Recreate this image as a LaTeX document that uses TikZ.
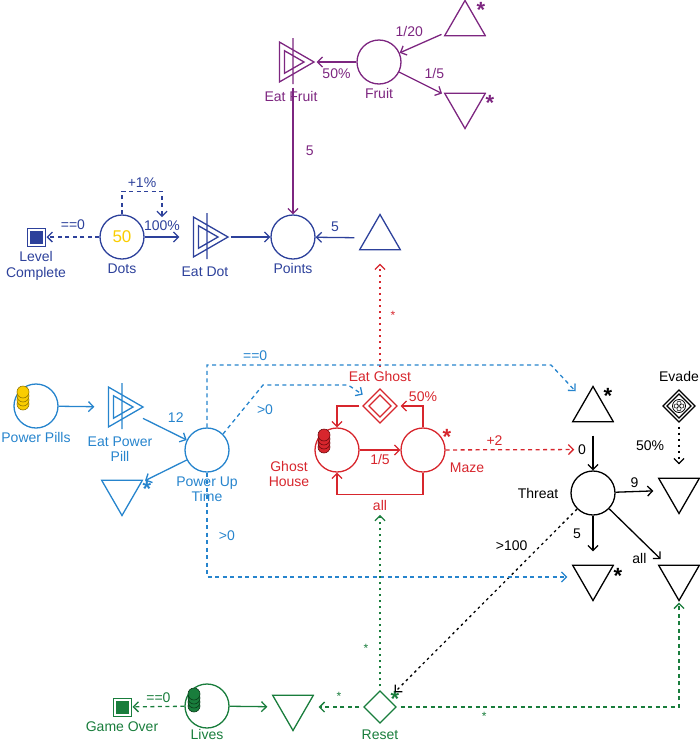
\documentclass[tikz,border=0pt]{standalone}
\usepackage{fontspec}
\setmainfont{Liberation Sans}
\usetikzlibrary{positioning,arrows.meta,calc}

\definecolor{purp}{RGB}{125,38,128}
\definecolor{dotc}{RGB}{45,65,155}
\definecolor{powc}{RGB}{38,132,205}
\definecolor{ghc}{RGB}{215,38,45}
\definecolor{lifc}{RGB}{25,125,60}
\definecolor{yel}{RGB}{250,205,0}
\definecolor{yeld}{RGB}{150,120,0}
\definecolor{ghd}{RGB}{110,10,15}
\definecolor{lifd}{RGB}{10,60,25}

\begin{document}
\begin{tikzpicture}[x=1pt, y=-1pt, line width=1.3pt,
    font=\fontsize{14}{15.5}\selectfont,
    pool/.style={circle, draw, minimum size=44, inner sep=0},
    tri/.style={circle, minimum size=50, inner sep=0,
      path picture={\draw[shift={(path picture bounding box.center)}]
        (#1:23.5) -- (#1+120:23.5) -- (#1+240:23.5) -- cycle;}},
    trup/.style={tri=270},
    trdn/.style={tri=90},
    conv/.style={circle, minimum size=50, inner sep=0,
      path picture={\draw[shift={(path picture bounding box.center)}]
        (0:23) -- (120:23) -- (240:23) -- cycle
        (0:13) -- (120:13) -- (240:13) -- cycle
        (2,-24) -- (2,22);}},
    gate/.style={circle, minimum size=40, inner sep=0,
      path picture={\draw[shift={(path picture bounding box.center)}]
        (0:16) -- (90:16) -- (180:16) -- (270:16) -- cycle;}},
    gatedbl/.style={circle, minimum size=40, inner sep=0,
      path picture={\draw[shift={(path picture bounding box.center)}]
        (0:17) -- (90:17) -- (180:17) -- (270:17) -- cycle
        (0:11) -- (90:11) -- (180:11) -- (270:11) -- cycle;}},
    gaterand/.style={circle, minimum size=40, inner sep=0,
      path picture={\begin{scope}[shift={(path picture bounding box.center)}]
        \draw (0:16) -- (90:16) -- (180:16) -- (270:16) -- cycle
          (0:12) -- (90:12) -- (180:12) -- (270:12) -- cycle;
        \draw[line width=0.8pt] (0,0) circle (6.5);
        \foreach \a in {0,90,180,270} \draw[line width=0.5pt] (\a:2.8) circle (2.1);
        \end{scope}}},
    endsq/.style={rectangle, draw, fill, double=white, double distance=2pt,
                  line width=1pt, minimum size=15, inner sep=0, outer sep=3pt},
    coin/.style={circle, line width=0.6pt, minimum size=12, inner sep=0},
    arr/.style={-{Straight Barb[length=5pt,width=10pt]}},
    dsh/.style={arr, dash pattern=on 4pt off 3.5pt},
    dtt/.style={arr, dash pattern=on 2.5pt off 3.5pt},
    bst/.style={font=\fontsize{22}{22}\bfseries\selectfont, inner sep=0},
    sst/.style={font=\fontsize{12}{12}\selectfont, inner sep=0}
  ]
  \useasboundingbox (0,0) rectangle (700,745);

  % nodes
  \begin{scope}[purp]
    \node[conv, label=below:Eat Fruit] (efr) at (291,62) {};
    \node[pool, label=below:Fruit] (fruit) at (379,62) {};
    \node[trup] (tfa) at (465,24) {};
    \node[trdn] (tfb) at (465,105) {};
    \node[bst] (sfa) at (481,10) {*};
    \node[bst] (sfb) at (490,103) {*};
  \end{scope}

  \begin{scope}[dotc]
    \node[endsq, label={[align=center]below:Level\\Complete}] (levc) at (36,237) {};
    \node[pool, text=yel, font=\fontsize{17}{17}\selectfont,
          label=below:Dots] (dots) at (122,237) {50};
    \node[conv, label=below:Eat Dot] (edot) at (205,237) {};
    \node[pool, label=below:Points] (points) at (293,237) {};
    \node[trup] (tpt) at (380,238) {};
  \end{scope}

  \begin{scope}[powc]
    \node[pool, label=below:Power Pills] (pp) at (36,406) {};
    \foreach \k in {3,...,0}
      \node[coin, fill=yel, draw=yeld] (ppc\k) at ($(pp)+(-13,-14+4*\k)$) {};
    \node[conv, label={[align=center]below:Eat Power\\Pill}] (epp) at (120,407) {};
    \node[pool, label={[align=center]below:Power Up\\Time}] (put) at (207,450) {};
    \node[trdn] (tpu) at (122,492) {};
    \node[bst] (spu) at (147,489) {*};
  \end{scope}

  \begin{scope}[ghc]
    \node[gatedbl, label={[name=egl]above:Eat Ghost}] (eg) at (380,406) {};
    \node[pool] (gh) at (337,450) {};
    \foreach \k in {3,...,0}
      \node[coin, fill=ghc, draw=ghd] (ghc\k) at ($(gh)+(-13,-15+4*\k)$) {};
    \node[align=center] (ghl) at (289,474) {Ghost\\House};
    \node[pool] (maze) at (423,450) {};
    \node (mazel) at (467,468) {Maze};
    \node[bst] (smz) at (447,437) {*};
  \end{scope}

  \node[trup] (tthr) at (593,410) {};
  \node[bst] (sthr) at (608,396) {*};
  \node[pool, label={[label distance=8pt]left:Threat}] (thr) at (593,493) {};
  \node[gaterand, label=above:Evade] (evd) at (679,406) {};
  \node[trdn] (trd) at (679,490) {};
  \node[trdn] (tsd) at (593,577) {};
  \node[bst] (ssd) at (618,576) {*};
  \node[trdn] (tbr) at (679,577) {};

  \begin{scope}[lifc]
    \node[endsq, label=below:Game Over] (gov) at (122,707) {};
    \node[pool, label={[label distance=-3pt]below:Lives}] (lives) at (207,706) {};
    \foreach \k in {3,...,0}
      \node[coin, fill=lifc, draw=lifd] (lvc\k) at ($(lives)+(-13,-12+4*\k)$) {};
    \node[trdn] (tgn) at (293,707) {};
    \node[gate, label={[label distance=-2pt]below:Reset}] (rst) at (380,707) {};
    \node[bst] (srst) at (395,699) {*};
  \end{scope}

  % connectors
  \begin{scope}[purp]
    \draw[arr] (tfa) -- (fruit) node[pos=0.35, above left=0pt] {1/20};
    \draw[arr] (fruit) -- (tfb) node[midway, above right] {1/5};
    \draw[arr] (fruit) -- (efr) node[midway, below=3pt] {50\%};
    \draw[arr] (efr.south -| points) -- (points) node[midway, right=9pt] {5};
  \end{scope}

  \begin{scope}[dotc]
    \draw[dsh] (dots) -- (levc) node[midway, above=3pt] {==0};
    \draw[arr] (dots) -- (edot) node[midway, above=2pt] (l100) {100\%};
    \draw[dsh] (dots.north) -- ++(0,-23) -| (l100.north) node[pos=0.25, above] {+1\%};
    \draw[arr] (edot) -- (points);
    \draw[arr] (tpt) -- (points) node[midway, above=2pt] {5};
  \end{scope}

  \draw[arr] (tthr) -- (thr) node[pos=0.4, left=3pt] (l0) {0};
  \draw[arr] (thr) -- (trd) node[midway, above] {9};
  \draw[arr] (thr) -- (tsd) node[midway, left=8pt] {5};
  \draw[arr] (thr) -- (tbr) node[pos=0.8, below left] {all};
  \draw[dtt] (evd) -- (trd) node[midway, left=11pt] {50\%};
  \draw[dtt] (thr) -- (rst) node[pos=0.25, above left] {>100};

  \begin{scope}[ghc]
    \draw[arr] (gh) -- (maze) node[midway, below] {1/5};
    \draw[arr] (eg) -| (gh);
    \draw[arr] (maze) |- (eg) node[pos=0.5, above] {50\%};
    \draw[arr] (maze.south) -- ++(0,22) -| (gh.south) node[pos=0.25, below=2pt] (lall) {all};
    \draw[dsh] (maze) -- (l0) node[pos=0.38, above] {+2};
    \draw[dtt] (egl) -- (tpt) node[midway, right=10pt, sst] {*};
  \end{scope}

  \begin{scope}[powc]
    \draw[arr] (pp) -- (epp);
    \draw[arr] (epp) -- (put) node[pos=0.75, above=8pt] {12};
    \draw[arr] (put) -- (tpu);
    \draw[dsh] (put.north) |- ($(tthr)+(-42,-45)$) node[pos=0.57, above] {==0} -- (tthr);
    \draw[dsh] (put.north east) -- ++(40,-49) node[midway, right=10pt] {>0}
      -- ++(85,0) -- (eg);
    \draw[dsh] (put.south) |- (tsd) node[pos=0.3, right=8pt] {>0};
  \end{scope}

  \begin{scope}[lifc]
    \draw[dsh] (lives) -- (gov) node[midway, above] {==0};
    \draw[arr] (lives) -- (tgn);
    \draw[dsh] (rst) -- (tgn) node[midway, above=6pt, sst] {*};
    \draw[dtt] (rst) -- (lall) node[pos=0.22, left=11pt, sst] {*};
    \draw[dsh] (rst) -| (tbr) node[pos=0.15, below=5pt, sst] {*};
  \end{scope}
\end{tikzpicture}
\end{document}
